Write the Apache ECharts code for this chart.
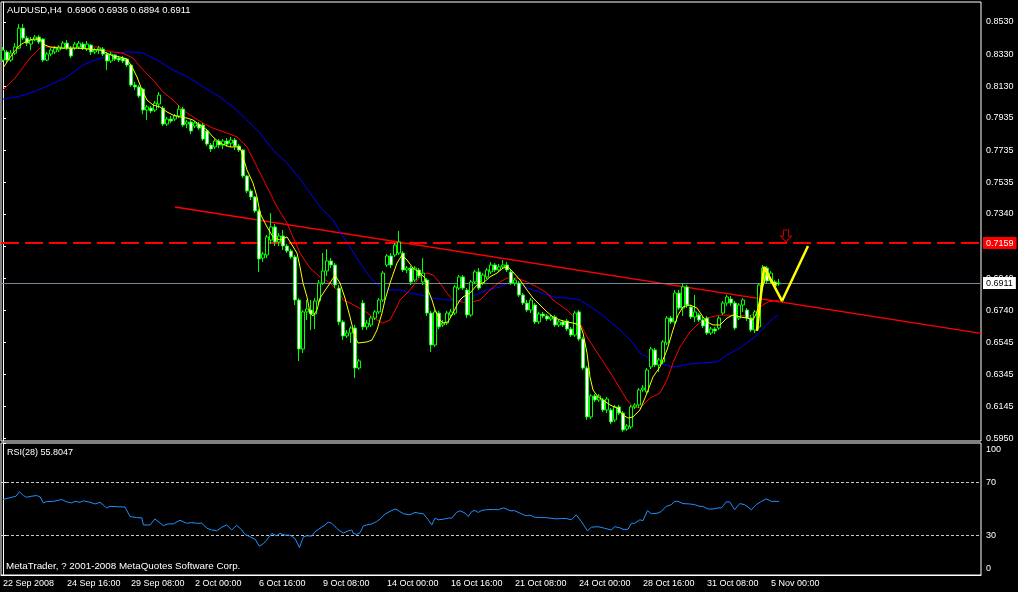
<!DOCTYPE html>
<html><head><meta charset="utf-8">
<script src="https://cdn.jsdelivr.net/npm/echarts@6/dist/echarts.min.js"></script>
<style>html,body{margin:0;padding:0;background:#000}#c{width:1018px;height:592px}</style>
</head><body><div id="c"></div>
<script>
// ---------- data ----------
const symbolName = 'AUDUSD,H4';
const lastOHLC = [0.6906, 0.6936, 0.6894, 0.6911];
const rsiTitle = 'RSI(28) 55.8047';
const copyright = 'MetaTrader, ? 2001-2008 MetaQuotes Software Corp.';
const totalSlots = 245;
const timeLabels = ['22 Sep 2008','24 Sep 16:00','29 Sep 08:00','2 Oct 00:00','6 Oct 16:00','9 Oct 08:00','14 Oct 00:00','16 Oct 16:00','21 Oct 08:00','24 Oct 00:00','28 Oct 16:00','31 Oct 08:00','5 Nov 00:00'];
const timeLabelBars = [0,16,32,48,64,80,96,112,128,144,160,176,192];
const priceTicks = [0.5950,0.6145,0.6345,0.6545,0.6740,0.6940,0.7140,0.7340,0.7535,0.7735,0.7935,0.8130,0.8330,0.8530];
const rsiTicks = [0,30,70,100];
const rsiLevels = [70,30];
const resistanceLevel = 0.7159;
const bidLevel = 0.6911;
// [open, close, low, high]
const candles = [
[.8294,.8356,.8282,.8375],[.8344,.8294,.8275,.8356],[.8294,.8337,.8282,.8356],[.8337,.8375,.8325,.8399],[.8368,.8492,.8362,.8517],[.8492,.8430,.8418,.8517],[.8430,.8399,.8381,.8443],[.8393,.8418,.8356,.8437],[.8418,.8437,.8412,.8449],[.8437,.8406,.8393,.8449],
[.8424,.8294,.8282,.8430],[.8294,.8331,.8288,.8344],[.8331,.8356,.8319,.8368],[.8344,.8368,.8331,.8381],[.8356,.8375,.8344,.8387],[.8368,.8399,.8362,.8412],[.8399,.8368,.8356,.8418],[.8368,.8319,.8306,.8381],[.8368,.8393,.8356,.8406],[.8375,.8399,.8362,.8412],
[.8393,.8368,.8356,.8406],[.8362,.8393,.8350,.8412],[.8387,.8344,.8325,.8393],[.8344,.8356,.8331,.8368],[.8356,.8368,.8331,.8381],[.8362,.8331,.8319,.8375],[.8331,.8288,.8232,.8344],[.8288,.8331,.8275,.8344],[.8325,.8300,.8288,.8331],[.8306,.8294,.8282,.8319],
[.8306,.8288,.8275,.8319],[.8300,.8263,.8251,.8306],[.8263,.8139,.8127,.8269],[.8139,.8127,.8108,.8158],[.8127,.8071,.8058,.8139],[.8114,.7984,.7959,.8120],[.7984,.8003,.7922,.8015],[.7996,.7978,.7965,.8009],[.7984,.8027,.7972,.8040],[.8021,.8077,.7996,.8096],
[.7996,.7897,.7885,.8009],[.7897,.7928,.7885,.7941],[.7928,.7916,.7903,.7947],[.7928,.7947,.7916,.7959],[.7947,.7990,.7934,.8015],[.7990,.7891,.7879,.8003],[.7897,.7910,.7872,.7922],[.7910,.7854,.7835,.7922],[.7885,.7903,.7872,.7916],[.7897,.7872,.7860,.7910],
[.7891,.7804,.7792,.7903],[.7854,.7773,.7761,.7866],[.7767,.7742,.7724,.7779],[.7755,.7792,.7742,.7804],[.7792,.7767,.7748,.7804],[.7767,.7792,.7742,.7804],[.7792,.7773,.7755,.7810],[.7779,.7798,.7755,.7817],[.7798,.7761,.7736,.7810],[.7761,.7736,.7724,.7773],
[.7736,.7575,.7562,.7742],[.7575,.7482,.7469,.7581],[.7482,.7445,.7426,.7494],[.7445,.7358,.7345,.7451],[.7358,.7060,.6980,.7370],[.7066,.7091,.7042,.7104],[.7085,.7197,.7066,.7209],[.7178,.7259,.7153,.7345],[.7259,.7166,.7141,.7277],[.7166,.7203,.7141,.7221],
[.7203,.7141,.7116,.7240],[.7141,.7110,.7097,.7153],[.7110,.7073,.7060,.7122],[.7073,.6806,.6775,.7085],[.6806,.6502,.6428,.6818],[.6502,.6732,.6477,.6744],[.6732,.6750,.6682,.6806],[.6744,.6719,.6620,.6806],[.6719,.6800,.6626,.6818],[.6800,.6911,.6775,.6930],
[.6911,.6986,.6899,.7097],[.6986,.7048,.6955,.7122],[.7048,.7023,.7004,.7066],[.7023,.6899,.6880,.7035],[.6880,.6670,.6651,.6899],[.6670,.6583,.6558,.6682],[.6583,.6601,.6570,.6620],[.6601,.6632,.6539,.6645],[.6632,.6384,.6322,.6651],[.6384,.6428,.6372,.6440],
[.6787,.6639,.6620,.6806],[.6639,.6663,.6620,.6682],[.6651,.6694,.6639,.6707],[.6694,.6732,.6682,.6744],[.6732,.6806,.6719,.6818],[.6806,.6973,.6794,.6986],[.7023,.7079,.7011,.7091],[.7079,.7023,.7004,.7097],[.7085,.7147,.7073,.7159],[.7097,.7166,.7085,.7234],
[.7097,.6992,.6980,.7110],[.6992,.7004,.6973,.7017],[.7004,.6918,.6899,.7017],[.6930,.7004,.6918,.7017],[.6992,.6955,.6942,.7004],[.6918,.6973,.6899,.7066],[.6930,.6725,.6707,.6942],[.6725,.6527,.6484,.6738],[.6527,.6732,.6515,.6744],[.6725,.6639,.6626,.6738],
[.6651,.6663,.6639,.6682],[.6663,.6725,.6651,.6738],[.6713,.6732,.6701,.6750],[.6725,.6887,.6713,.6899],[.6880,.6949,.6868,.6961],[.6949,.6880,.6868,.6961],[.6868,.6713,.6694,.6880],[.6713,.6918,.6701,.6930],[.6918,.6980,.6905,.6992],[.6980,.6880,.6868,.7004],
[.6911,.6961,.6899,.6973],[.6949,.6992,.6936,.7004],[.6980,.7023,.6967,.7042],[.7023,.6992,.6980,.7035],[.6992,.7011,.6980,.7029],[.7011,.7023,.6998,.7054],[.7023,.6992,.6980,.7042],[.6980,.6911,.6899,.6992],[.6911,.6930,.6893,.6942],[.6911,.6837,.6825,.6924],
[.6837,.6787,.6775,.6849],[.6787,.6744,.6732,.6806],[.6744,.6806,.6725,.6818],[.6775,.6670,.6657,.6787],[.6670,.6719,.6657,.6732],[.6719,.6707,.6694,.6732],[.6707,.6688,.6676,.6719],[.6688,.6701,.6676,.6713],[.6701,.6651,.6639,.6713],[.6651,.6670,.6639,.6682],
[.6670,.6651,.6639,.6682],[.6676,.6626,.6614,.6688],[.6626,.6589,.6577,.6639],[.6589,.6725,.6577,.6738],[.6732,.6564,.6552,.6744],[.6564,.6384,.6372,.6577],[.6384,.6081,.6062,.6397],[.6081,.6211,.6068,.6223],[.6211,.6186,.6174,.6223],[.6186,.6211,.6174,.6223],
[.6186,.6124,.6112,.6198],[.6124,.6192,.6105,.6205],[.6124,.6050,.6037,.6136],[.6062,.6143,.6050,.6155],[.6143,.6105,.6093,.6155],[.6105,.6000,.5988,.6118],[.6006,.6025,.5994,.6037],[.6019,.6143,.6006,.6155],[.6143,.6155,.6130,.6167],[.6155,.6248,.6136,.6260],
[.6248,.6260,.6236,.6279],[.6236,.6372,.6223,.6384],[.6391,.6502,.6378,.6515],[.6496,.6403,.6391,.6508],[.6403,.6434,.6360,.6446],[.6422,.6546,.6409,.6558],[.6539,.6694,.6527,.6707],[.6694,.6670,.6657,.6707],[.6670,.6849,.6657,.6868],[.6849,.6756,.6744,.6868],
[.6756,.6887,.6707,.6911],[.6887,.6775,.6756,.6899],[.6763,.6701,.6688,.6775],[.6701,.6732,.6670,.6837],[.6713,.6682,.6670,.6725],[.6682,.6645,.6632,.6701],[.6694,.6601,.6589,.6707],[.6601,.6626,.6589,.6639],[.6626,.6614,.6595,.6639],[.6632,.6694,.6620,.6707],
[.6725,.6787,.6713,.6800],[.6787,.6825,.6769,.6837],[.6812,.6787,.6769,.6831],[.6787,.6632,.6620,.6800],[.6694,.6775,.6682,.6787],[.6775,.6806,.6732,.6818],[.6744,.6694,.6676,.6756],[.6694,.6620,.6608,.6713],[.6620,.6732,.6601,.6744],[.6639,.6899,.6626,.6911],
[.6911,.7004,.6899,.7023],[.7004,.6924,.6911,.7017],[.6924,.6973,.6905,.6986],[.6918,.6893,.6880,.6930],[.6906,.6911,.6894,.6936]
];
// fast MA (yellow) [bar, price]
const maFast = [[0,.8244],[1,.8282],[2.5,.8337],[4.25,.8387],[6,.8412],[7.5,.8424],[9.25,.8424],[10.5,.8387],[11.75,.8375],[14.25,.8368],[16,.8368],[18.5,.8368],[21.75,.8362],[24.25,.8356],[26,.8337],[27.5,.8319],[29.25,.8313],[31,.8300],[32.25,.8251],[33.5,.8189],[34.75,.8108],[36,.8046],[37.5,.8015],[39.25,.8003],[41,.7972],[42.5,.7953],[44.25,.7941],[46,.7934],[47.5,.7922],[49.25,.7891],[51,.7860],[52.5,.7817],[54.25,.7779],[56.75,.7755],[59.25,.7755],[61,.7612],[62.5,.7531],[63.5,.7445],[64.25,.7345],[66,.7259],[67.5,.7197],[69.25,.7178],[71,.7197],[72.25,.7147],[73.5,.7097],[74.25,.7011],[75,.6911],[76,.6825],[76.75,.6725],[77.5,.6707],[78.5,.6744],[79.25,.6818],[81.75,.6911],[83,.6961],[84.25,.6911],[85.5,.6818],[86.75,.6701],[88,.6577],[88.75,.6539],[91,.6546],[92.25,.6558],[93.5,.6620],[94.75,.6725],[95.5,.6806],[96.75,.6911],[98.5,.7035],[99.75,.7085],[101,.7054],[102.5,.7004],[104.25,.6973],[105.5,.6942],[106.25,.6868],[107.25,.6806],[108,.6744],[109.25,.6682],[110,.6663],[111.25,.6670],[112.5,.6725],[113.5,.6775],[114.25,.6806],[115,.6825],[116.75,.6849],[118.5,.6899],[120,.6911],[121.75,.6949],[123.5,.6973],[125,.7004],[126.25,.7011],[127.5,.6980],[129.25,.6930],[131,.6868],[132.5,.6818],[134.25,.6775],[136,.6732],[137.5,.6701],[139.25,.6682],[141,.6670],[142.5,.6663],[144.25,.6651],[145,.6601],[146,.6477],[146.75,.6329],[147.5,.6248],[148.75,.6205],[150,.6186],[151.75,.6155],[153.5,.6136],[155,.6093],[156.25,.6074],[157.5,.6081],[159.25,.6124],[161,.6229],[162.5,.6329],[164.25,.6391],[166,.6496],[167.5,.6620],[168.75,.6713],[170,.6763],[171.75,.6775],[173.5,.6756],[175,.6701],[176,.6670],[177.5,.6651],[179.25,.6651],[181,.6694],[182.5,.6713],[184.25,.6701],[186,.6694],[187.5,.6682],[188.5,.6732],[189.75,.6868],[190.75,.6961],[191.75,.6942],[193,.6905],[194,.6911]];
// medium MA (red)
const maMid = [[0,.8108],[3,.8182],[6.75,.8306],[9.25,.8368],[10,.8375],[24.25,.8375],[25,.8356],[27.5,.8344],[30,.8337],[32.5,.8306],[35,.8232],[37.5,.8170],[40,.8096],[42.5,.8046],[45,.7984],[47.5,.7941],[50,.7903],[52.5,.7872],[56,.7841],[58.5,.7817],[61,.7755],[63.5,.7631],[66,.7507],[68.5,.7383],[71,.7283],[72.5,.7197],[74.25,.7097],[76.75,.7004],[79.25,.6949],[81.75,.6911],[84.25,.6849],[85,.6806],[86.75,.6787],[90,.6744],[93.5,.6682],[95,.6663],[96.75,.6682],[98.5,.6763],[99.25,.6806],[101.75,.6868],[104.25,.6949],[106,.6973],[107.5,.6961],[109.25,.6911],[111,.6849],[112.5,.6806],[116,.6787],[119.25,.6806],[121.75,.6868],[124.25,.6918],[126,.6942],[128.5,.6942],[131,.6918],[133.5,.6887],[136,.6849],[137.5,.6806],[141,.6744],[144.25,.6663],[146,.6577],[149.25,.6453],[152.5,.6329],[156,.6186],[157.5,.6143],[159.25,.6136],[161.75,.6198],[164.25,.6229],[166,.6310],[167.5,.6416],[169.25,.6515],[171.75,.6608],[173.75,.6657],[176,.6694],[179.25,.6713],[186.75,.6707],[188,.6725],[189.25,.6763],[191.25,.6794],[194,.6806]];
// slow MA (blue)
const maSlow = [[0,.8052],[3.5,.8065],[7.5,.8096],[11.75,.8139],[16,.8189],[20,.8263],[23.5,.8300],[26,.8313],[28.5,.8337],[31,.8344],[32.5,.8344],[35,.8337],[38.5,.8294],[42.5,.8232],[46.75,.8182],[50,.8127],[54.25,.8065],[57.5,.8003],[61,.7922],[64.25,.7841],[67.5,.7736],[71,.7655],[74.25,.7556],[77.5,.7445],[79.25,.7383],[82.5,.7302],[84.25,.7228],[86.75,.7135],[89.25,.7035],[91.75,.6949],[94.25,.6887],[96.75,.6868],[99.25,.6868],[101.75,.6849],[104.25,.6837],[107.5,.6818],[111,.6806],[114.25,.6800],[117.5,.6831],[121,.6868],[124.25,.6887],[126,.6911],[127.5,.6911],[129.25,.6899],[132.5,.6868],[137.5,.6825],[141,.6818],[144.25,.6806],[149.25,.6725],[154.25,.6620],[157.5,.6539],[159.25,.6477],[161,.6452],[162.5,.6422],[167.5,.6391],[171.75,.6409],[178.5,.6422],[181,.6465],[184.25,.6508],[187.5,.6570],[189.25,.6608],[192.5,.6694],[193.75,.6713]];
const trendLine = [[43,.7383],[244.5,.6599]];
const zigzag = [[188.5,.6614],[190.25,.7011],[194.75,.6800],[201.25,.7141]];
const arrowMark = [[195.75,.7203]];
const rsi = [[0,57.2],[2.6,59.2],[3.25,59.7],[4.1,63.1],[5.1,60.2],[5.9,58.9],[7.2,59.7],[8.4,60.2],[9.25,59.2],[10.1,54.6],[10.9,55.6],[12.6,55.8],[14.7,57.2],[15.9,55.4],[17.2,54.6],[18,55.8],[19.25,55.1],[20.1,56.2],[21.75,55.1],[23,53.8],[24.25,55.1],[25.9,50.8],[26.75,52.0],[28,51.8],[30.5,51.5],[31.75,44.3],[33.4,43.5],[34.7,43.3],[35.1,37.9],[36.75,37.9],[38,42.5],[38.8,40.5],[40.1,37.4],[41.3,38.7],[42.6,38.7],[44.25,41.5],[44.7,40.0],[45.9,39.2],[47.2,39.7],[48.4,39.2],[49.7,39.2],[51,35.4],[52.2,34.1],[53.4,33.5],[54.7,36.2],[55.9,37.9],[57.2,34.1],[58.4,37.7],[59.7,34.1],[60.5,30.8],[61.75,28.9],[63,27.2],[64.1,21.8],[65.1,23.8],[65.9,26.4],[67.2,31.5],[68.4,29.7],[69.25,31.5],[70.5,30.2],[71.75,30.2],[73,27.7],[74.1,20.8],[75.1,28.9],[75.9,29.7],[77.2,29.5],[78,32.8],[79.25,35.4],[80.5,37.9],[81.3,40.0],[82.2,39.2],[83.4,35.4],[84.25,33.3],[85.1,31.8],[86.3,33.5],[87.2,34.1],[87.6,31.5],[88.4,30.8],[89.25,32.0],[90.1,37.2],[90.9,37.9],[92.2,38.7],[93.4,40.5],[94.25,42.3],[95.5,46.2],[96.75,48.2],[98,50.0],[98.8,48.9],[100.1,46.4],[101.75,45.6],[103,47.4],[103.8,46.9],[105.1,46.4],[106.3,41.8],[107.2,37.9],[108,43.1],[108.8,41.8],[110.1,42.3],[111.3,43.1],[112.2,43.1],[113.4,47.4],[114.25,48.7],[115.5,46.9],[116.3,44.3],[117.2,48.2],[118,48.9],[118.8,47.4],[119.7,48.9],[120.9,49.5],[122.6,49.7],[123.8,49.5],[125.1,50.8],[125.9,50.0],[126.75,48.7],[127.9,48.7],[129.6,46.4],[130.8,44.8],[131.7,45.4],[132.9,43.8],[134.6,43.5],[135.8,43.5],[136.7,43.1],[137.1,43.8],[138.3,42.5],[139.6,42.8],[140.8,42.8],[142.1,41.8],[143.3,45.6],[144.6,40.5],[146.1,33.5],[147.1,36.2],[148.75,36.6],[150.4,35.4],[152.1,34.1],[152.9,36.6],[154.2,35.8],[155,34.6],[156.25,34.6],[157.1,39.2],[157.9,39.2],[159.2,41.8],[160,41.2],[161.1,48.7],[162.1,46.4],[163.75,46.9],[164.6,48.2],[165.8,52.0],[167.1,53.3],[167.9,55.8],[168.75,55.8],[170,54.1],[171.7,53.8],[172.9,53.3],[174.2,52.0],[175,52.0],[176.25,50.0],[177.5,50.0],[178.75,50.8],[179.6,50.8],[180.8,55.4],[181.7,55.4],[182.9,49.5],[184.2,54.1],[185.4,53.3],[187.1,49.5],[188.3,53.3],[189.6,55.8],[190.8,57.7],[192.1,55.8],[194,55.8]];

// ---------- chart ----------
const FONT = 'Liberation Sans';
const categories = Array.from({length: totalSlots}, (_, i) => String(i));
const labelMap = new Map(timeLabelBars.map((b, k) => [b, timeLabels[k]]));
const txt = {color: '#fff', fontSize: 9, fontFamily: FONT};

const chart = echarts.init(document.getElementById('c'), null, {renderer: 'canvas'});
chart.setOption({
  animation: false,
  backgroundColor: '#000',
  title: [
    {text: symbolName + '  ' + lastOHLC.map(v => v.toFixed(4)).join(' '), left: 7, top: 5, padding: 0, textStyle: Object.assign({}, txt, {fontWeight: 'normal', fontSize: 9.5})},
    {text: rsiTitle, left: 7, top: 448, padding: 0, textStyle: Object.assign({}, txt, {fontWeight: 'normal'})},
    {text: copyright, left: 6, top: 561, padding: 0, textStyle: Object.assign({}, txt, {fontWeight: 'normal', fontSize: 9.8})}
  ],
  grid: [
    {left: 1, top: 2, width: 980, height: 439, show: true, borderColor: '#fff', borderWidth: 1},
    {left: 1, top: 443, width: 980, height: 132, show: true, borderColor: '#fff', borderWidth: 1}
  ],
  xAxis: [
    {type: 'category', gridIndex: 0, data: categories, boundaryGap: true, show: false, position: 'bottom'},
    {type: 'value', gridIndex: 0, min: -0.5, max: totalSlots - 0.5, show: false, position: 'top'},
    {type: 'category', gridIndex: 1, data: categories, boundaryGap: true, position: 'bottom',
      axisLine: {lineStyle: {color: '#fff', width: 1}},
      axisTick: {alignWithLabel: true, length: 3, interval: (i) => labelMap.has(i), lineStyle: {color: '#fff'}},
      axisLabel: {interval: (i) => labelMap.has(i), formatter: (v, i) => labelMap.get(Number(v)) || '', align: 'left', margin: 4, color: '#fff', fontSize: 9, fontFamily: FONT},
      splitLine: {show: false}},
    {type: 'value', gridIndex: 1, min: -0.5, max: totalSlots - 0.5, show: false, position: 'top'}
  ],
  yAxis: [
    {type: 'value', gridIndex: 0, position: 'right', min: 0.59315, max: 0.86540, scale: true,
      axisLine: {show: true, lineStyle: {color: '#fff'}},
      axisTick: {show: true, length: 3, customValues: priceTicks, lineStyle: {color: '#fff'}},
      axisLabel: {customValues: priceTicks, formatter: v => Number(v).toFixed(4), margin: 5, color: '#fff', fontSize: 9, fontFamily: FONT},
      splitLine: {show: false}},
    {type: 'value', gridIndex: 1, position: 'right', min: 0, max: 100,
      axisLine: {show: true, lineStyle: {color: '#fff'}},
      axisTick: {show: true, length: 3, customValues: rsiTicks, lineStyle: {color: '#fff'}},
      axisLabel: {customValues: rsiTicks, margin: 5, color: '#fff', fontSize: 9, fontFamily: FONT,
        formatter: v => v === 100 ? '{t|100}' : (v === 0 ? '{b|0}' : String(v)),
        rich: {t: {padding: [14, 0, 0, 0], color: '#fff', fontSize: 9, fontFamily: FONT}, b: {padding: [0, 0, 12, 0], color: '#fff', fontSize: 9, fontFamily: FONT}}},
      splitLine: {show: false}}
  ],
  series: [
    {type: 'line', xAxisIndex: 1, yAxisIndex: 0, data: trendLine, showSymbol: false, silent: true,
      lineStyle: {color: '#ff0000', width: 1.5}, z: 3,
      markLine: {silent: true, symbol: ['none', 'none'], animation: false, precision: 4,
        data: [
          {yAxis: bidLevel, lineStyle: {color: '#778899', width: 1, type: 'solid'},
            label: {show: true, position: 'end', distance: 2, formatter: () => bidLevel.toFixed(4), color: '#000', backgroundColor: '#fff', padding: [2, 3, 1, 3], fontSize: 9, fontFamily: FONT}},
          {yAxis: resistanceLevel, lineStyle: {color: '#ff0000', width: 2, type: [18, 6]},
            label: {show: true, position: 'end', distance: 2, formatter: () => resistanceLevel.toFixed(4), color: '#fff', backgroundColor: '#ff0000', padding: [2, 3, 1, 3], fontSize: 9, fontFamily: FONT}}
        ]}},
    {type: 'line', xAxisIndex: 1, yAxisIndex: 0, data: maSlow, showSymbol: false, silent: true, lineStyle: {color: '#0000ff', width: 1}, z: 4},
    {type: 'line', xAxisIndex: 1, yAxisIndex: 0, data: maMid, showSymbol: false, silent: true, lineStyle: {color: '#ff0000', width: 1}, z: 4},
    {type: 'candlestick', xAxisIndex: 0, yAxisIndex: 0, data: candles, barWidth: 3, silent: true, z: 5,
      itemStyle: {color: '#000000', color0: '#ffffff', borderColor: '#00ff00', borderColor0: '#00ff00', borderWidth: 1}},
    {type: 'line', xAxisIndex: 1, yAxisIndex: 0, data: maFast, showSymbol: false, silent: true, lineStyle: {color: '#ffff00', width: 1}, z: 6},
    {type: 'line', xAxisIndex: 1, yAxisIndex: 0, data: zigzag, showSymbol: false, silent: true, lineStyle: {color: '#ffff00', width: 2.5}, z: 7},
    {type: 'scatter', xAxisIndex: 1, yAxisIndex: 0, data: arrowMark, silent: true, z: 8,
      symbol: 'path://M3,0 L8,0 L8,6 L11,6 L5.5,12 L0,6 L3,6 Z', symbolSize: [11, 12],
      itemStyle: {color: 'rgba(0,0,0,0)', borderColor: '#ff0000', borderWidth: 1}},
    {type: 'line', xAxisIndex: 3, yAxisIndex: 1, data: rsi, showSymbol: false, silent: true, lineStyle: {color: '#1e90ff', width: 1}, z: 5,
      markLine: {silent: true, symbol: ['none', 'none'], animation: false, label: {show: false}, precision: 2,
        lineStyle: {color: '#c8c8c8', width: 1, type: [3, 2]},
        data: rsiLevels.map(v => ({yAxis: v}))}}
  ]
});
</script>
</body></html>
